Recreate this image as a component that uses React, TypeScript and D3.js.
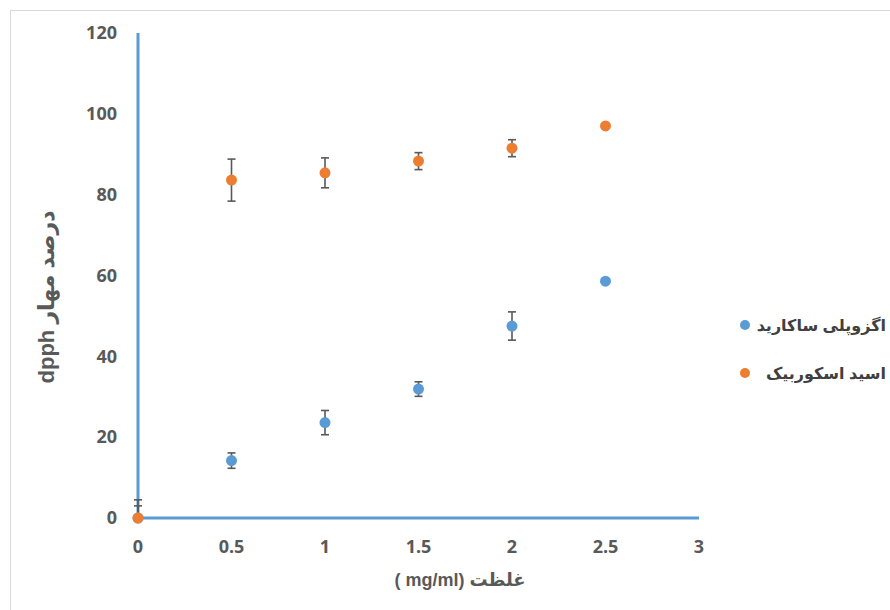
import * as d3 from "d3";

const W = 890;
const H = 610;
const MARGIN = { top: 33, right: 191, bottom: 92, left: 138 };

const concentrations = [0, 0.5, 1, 1.5, 2, 2.5];
const exoValues = [0, 14.2, 23.6, 31.9, 47.5, 58.6];
const exoErrors = [3, 1.9, 3.0, 1.8, 3.5, 0];
const ascorbicValues = [0, 83.6, 85.4, 88.3, 91.5, 97.0];
const ascorbicErrors = [4.5, 5.2, 3.7, 2.1, 2.1, 0];

const seriesNames = ["اگزوپلی ساکارید", "اسید اسکوربیک"];
const seriesColors = ["#5b9bd5", "#ed7d31"];

const xTicks = [0, 0.5, 1, 1.5, 2, 2.5, 3];
const yTicks = [0, 20, 40, 60, 80, 100, 120];

const xTitle = "غلظت (mg/ml )";
const yTitle = "درصد مهار dpph";

const FONT = "'Liberation Sans', 'DejaVu Sans', sans-serif";
const NUM_FONT = "'Open Sans', 'Liberation Sans', sans-serif";
const TEXT = "#595959";
const ERR = "#595959";

export default function App() {
  const x = d3.scaleLinear().domain([0, 3]).range([MARGIN.left, W - MARGIN.right]);
  const y = d3.scaleLinear().domain([0, 120]).range([H - MARGIN.bottom, MARGIN.top]);

  const series = [
    { name: seriesNames[0], color: seriesColors[0], values: exoValues, errors: exoErrors },
    { name: seriesNames[1], color: seriesColors[1], values: ascorbicValues, errors: ascorbicErrors },
  ];

  const clip = (v: number) => Math.max(0, Math.min(120, v));

  return (
    <svg
      width={W}
      height={H}
      style={{ position: "absolute", left: 0, top: 0, background: "#fff" }}
      fontFamily={FONT}
    >
      <rect x={10.5} y={10.5} width={W} height={H} fill="#fff" stroke="#d9d9d9" strokeWidth={1} />

      {/* axes */}
      <line x1={x(0)} x2={x(0)} y1={y(120)} y2={y(0)} stroke="#5b9bd5" strokeWidth={3} />
      <line x1={x(0) - 1.5} x2={x(3)} y1={y(0)} y2={y(0)} stroke="#5b9bd5" strokeWidth={3} />

      {yTicks.map((t) => (
        <text
          key={`y${t}`}
          x={x(0) - 21}
          y={y(t)}
          dy="0.35em"
          textAnchor="end"
          fontFamily={NUM_FONT}
          fontSize={18}
          fontWeight="bold"
          fill={TEXT}
        >
          {t}
        </text>
      ))}
      {xTicks.map((t) => (
        <text
          key={`x${t}`}
          x={x(t)}
          y={y(0) + 29}
          dy="0.35em"
          textAnchor="middle"
          fontFamily={NUM_FONT}
          fontSize={18}
          fontWeight="bold"
          fill={TEXT}
        >
          {t}
        </text>
      ))}

      {/* error bars */}
      {series.map((s, si) =>
        concentrations.map((c, i) => {
          const e = s.errors[i];
          if (!e) return null;
          const cx = x(c);
          const top = y(clip(s.values[i] + e));
          const bot = y(clip(s.values[i] - e));
          return (
            <g key={`e${si}-${i}`} stroke={ERR} strokeWidth={1.6}>
              <line x1={cx} x2={cx} y1={top} y2={bot} />
              <line x1={cx - 4} x2={cx + 4} y1={top} y2={top} />
              {s.values[i] - e >= 0 ? <line x1={cx - 4} x2={cx + 4} y1={bot} y2={bot} /> : null}
            </g>
          );
        }),
      )}

      {/* points */}
      {series.map((s, si) =>
        concentrations.map((c, i) => (
          <circle key={`p${si}-${i}`} cx={x(c)} cy={y(s.values[i])} r={5.5} fill={s.color} />
        )),
      )}

      {/* legend */}
      {series.map((s, si) => (
        <g key={`l${si}`} transform={`translate(745,${325 + si * 48})`}>
          <circle cx={0} cy={0} r={5} fill={s.color} />
          <text
            x={141}
            y={0}
            dy="0.35em"
            direction="rtl"
            textAnchor="start"
            fontSize={16}
            fontWeight="bold"
            fill="#404040"
          >
            {s.name}
          </text>
        </g>
      ))}

      {/* titles */}
      <text
        x={460}
        y={580}
        dy="0.35em"
        direction="rtl"
        textAnchor="middle"
        fontSize={18}
        fontWeight="bold"
        fill={TEXT}
      >
        {xTitle}
      </text>
      <text
        transform="translate(46,297) rotate(-90)"
        dy="0.35em"
        direction="rtl"
        textAnchor="middle"
        fontSize={22}
        fontWeight="bold"
        fill={TEXT}
      >
        {yTitle}
      </text>
    </svg>
  );
}
